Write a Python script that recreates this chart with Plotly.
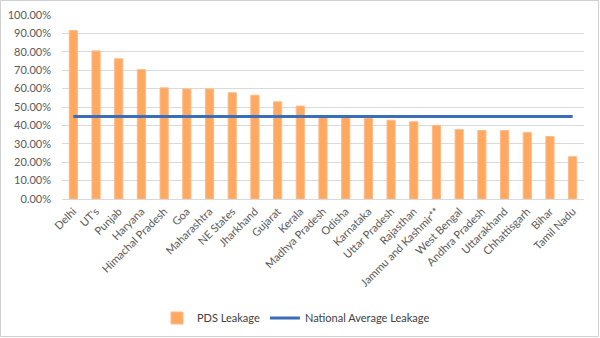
import plotly.graph_objects as go

states = ["Delhi", "UT's", "Punjab", "Haryana", "Himachal Pradesh", "Goa", "Maharashtra",
          "NE States", "Jharkhand", "Gujarat", "Kerala", "Madhya Pradesh", "Odisha",
          "Karnataka", "Uttar Pradesh", "Rajasthan", "Jammu and Kashmir**", "West Bengal",
          "Andhra Pradesh", "Uttarakhand", "Chhattisgarh", "Bihar", "Tamil Nadu"]
pds_leakage = [0.915, 0.805, 0.762, 0.703, 0.604, 0.598, 0.598, 0.577, 0.564, 0.528,
               0.505, 0.452, 0.450, 0.440, 0.428, 0.420, 0.400, 0.377, 0.372, 0.372,
               0.361, 0.340, 0.230]
national_average = [0.448] * len(states)

W, H = 600, 338
L, R, T, B = 62, 16, 15, 139
pw, ph = W - L - R, H - T - B

def px(x):
    return (x - L) / pw

def py(y):
    return (H - B - y) / ph

fig = go.Figure()
fig.add_trace(go.Bar(
    x=states, y=pds_leakage, name="PDS Leakage",
    marker=dict(color="#FFA860", line=dict(color="#FFB98A", width=1)),
    width=0.36,
))
fig.add_trace(go.Scatter(
    x=states, y=national_average, name="National Average Leakage",
    mode="lines", line=dict(color="#3A6DBA", width=3),
))

fig.update_layout(
    width=W, height=H,
    margin=dict(l=L, r=R, t=T, b=B, autoexpand=False),
    paper_bgcolor="white", plot_bgcolor="white",
    font=dict(family="Lato, 'Open Sans', sans-serif", size=11, color="#595959"),
    bargap=0.6,
    showlegend=True,
    legend=dict(orientation="h", x=px(296), y=py(318), xanchor="center", yanchor="middle",
                font=dict(size=11, color="#404040"), itemwidth=30, traceorder="normal"),
    xaxis=dict(range=[-0.5, len(states) - 0.5], tickangle=-45, showgrid=False,
               showline=False, ticks="", ticklabelstandoff=3, automargin=False,
               tickfont=dict(size=11, color="#595959")),
    yaxis=dict(range=[0, 1.0], dtick=0.1, tickformat=".2%", showgrid=True,
               gridcolor="#D9D9D9", gridwidth=1, zeroline=True, zerolinecolor="#D9D9D9",
               zerolinewidth=1, showline=False, ticks="", ticklabelstandoff=10,
               automargin=False, tickfont=dict(size=11, color="#595959")),
    shapes=[dict(type="rect", xref="paper", yref="paper",
                 x0=px(0.5), x1=px(598.5), y0=py(336.5), y1=py(0.5),
                 line=dict(color="#D0D0D0", width=1), fillcolor="rgba(0,0,0,0)", layer="below")],
)

fig.write_html("out.html")
